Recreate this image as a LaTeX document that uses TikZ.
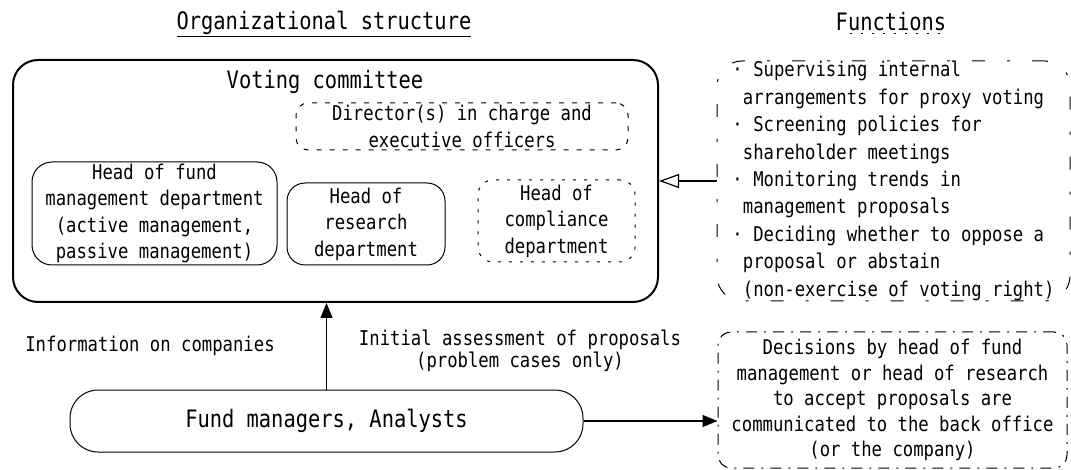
\documentclass[tikz,border=0pt]{standalone}
\usepackage{fontspec}
\usepackage{tikz}
\usetikzlibrary{arrows.meta,positioning}
\newfontfamily\gothic[FakeStretch=0.85]{DejaVu Sans Mono}
\newcommand{\txtsmall}{\gothic\fontsize{20.3}{26.5}\selectfont}
\newcommand{\txtlarge}{\gothic\fontsize{24}{30}\selectfont}
\tikzset{
  member/.style={draw, line width=1pt, rounded corners=20pt, inner sep=0pt,
    anchor=center, align=center, font=\txtsmall},
  memberdash/.style={member, dash pattern=on 5pt off 8pt},
  memberdot/.style={member, dash pattern=on 3pt off 8pt},
  caption/.style={inner sep=0pt, anchor=center, align=center, font=\txtsmall},
  heading/.style={inner sep=0pt, anchor=center, font=\txtlarge}
}

\begin{document}
\begin{tikzpicture}[>=Triangle]
\useasboundingbox (0,0) rectangle (1071pt,-470pt);

 % Voting committee: the outer frame
 \node[draw,
  line width=2pt,
  rounded corners=25pt,
  minimum width=645pt,  % frame width
  minimum height=242pt, % frame height
  anchor=center] (Committee) at (335.5pt,-181pt) {};

 % Headings above both columns
 \node[heading,
  above of=Committee,
  node distance=157pt,
  xshift=-11.5pt] (OrgTitle) {\underline{Organizational structure}};

 \node[heading,
  right of=Committee,
  node distance=555.5pt,
  yshift=159pt] (FuncTitle) {Functions};
 \draw[line width=1pt, dash pattern=on 2pt off 9pt]
  ([yshift=-3pt,xshift=14pt]FuncTitle.base west) -- ([yshift=-3pt]FuncTitle.base east);

 % Members of the committee
 \node[heading,
  above of=Committee,
  node distance=99pt,
  xshift=-10.5pt] (VoteTitle) {Voting committee};

 \node[memberdash,
  rounded corners=12pt,
  minimum width=332pt,
  minimum height=47pt,
  above of=Committee,
  node distance=54.5pt,
  xshift=126.5pt] (Director)
 {Director(s) in charge and\\executive officers};

 \node[member,
  minimum width=245pt,
  minimum height=103pt,
  left of=Committee,
  node distance=181pt,
  yshift=-32.5pt] (FundHead)
 {Head of fund\\management department\\(active management,\\passive management)};

 \node[member,
  rounded corners=18pt,
  minimum width=158pt,
  minimum height=82pt,
  right of=FundHead,
  node distance=211.5pt,
  yshift=-10.5pt] (ResHead)
 {Head of\\research\\department};

 \node[memberdot,
  rounded corners=15pt,
  minimum width=157pt,
  minimum height=82pt,
  right of=ResHead,
  node distance=190.5pt,
  yshift=3pt] (CompHead)
 {Head of\\compliance\\department};

 % Functions of the committee
 \node[member,
  rounded corners=25pt,
  minimum width=353pt,
  minimum height=240pt,
  align=left,
  font=\gothic\fontsize{20.3}{27.4}\selectfont,
  dash pattern=on 13pt off 22pt on 3pt off 22pt,
  right of=Committee,
  node distance=558pt] (Functions)
 {· Supervising internal\\
  \hphantom{a}arrangements for proxy voting\\
  · Screening policies for\\
  \hphantom{a}shareholder meetings\\
  · Monitoring trends in\\
  \hphantom{a}management proposals\\
  · Deciding whether to oppose a\\
  \hphantom{a}proposal or abstain\\
  \hphantom{a}(non-exercise of voting right)};

 % Fund managers and analysts
 \node[member,
  rounded corners=28pt,
  minimum width=513pt,
  minimum height=62pt,
  font=\txtlarge,
  below of=Committee,
  node distance=240pt,
  xshift=-9pt] (Staff) {Fund managers, Analysts};

 \node[member,
  rounded corners=13pt,
  minimum width=349pt,
  minimum height=136pt,
  font=\gothic\fontsize{20.3}{25.5}\selectfont,
  dash pattern=on 11pt off 7pt on 2pt off 7pt,
  below of=Functions,
  node distance=219pt,
  xshift=-1pt] (Decisions)
 {Decisions by head of fund\\management or head of research\\to accept proposals are\\communicated to the back office\\(or the company)};

 % Texts beside the upward arrow
 \node[caption,
  below of=Committee,
  node distance=165pt,
  xshift=-185.5pt] (InfoText) {Information on companies};

 \node[caption,
  font=\gothic\fontsize{20.3}{22}\selectfont,
  below of=Committee,
  node distance=170pt,
  xshift=184.5pt] (AssessText) {Initial assessment of proposals\\(problem cases only)};

 % draw the arrows
 \draw[line width=1.2pt, -{Triangle[length=15pt,width=12pt]}]
  (Staff.north) -- (Staff.north |- Committee.south);
 \draw[line width=1.2pt, -{Triangle[length=15pt,width=12pt]}]
  (Staff.east) -- (Staff.east -| Decisions.west);
 \draw[line width=1.2pt, -{Triangle[open,length=20pt,width=14pt]}]
  (Functions.west) -- (Committee.east);

\end{tikzpicture}
\end{document}
